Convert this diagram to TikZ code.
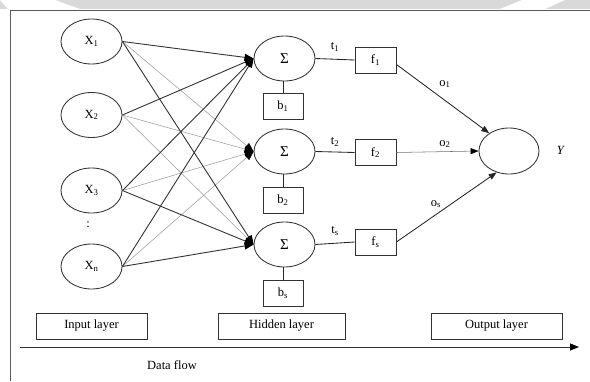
\documentclass[tikz,border=0pt]{standalone}
\usepackage{fontspec}
\setmainfont{Liberation Serif}
\usetikzlibrary{arrows.meta,shapes.geometric}
\definecolor{band}{RGB}{217,217,217}
\begin{document}
\begin{tikzpicture}[x=1pt,y=-1pt,
  every node/.style={font=\fontsize{12.5}{15}\selectfont},
  ell/.style={draw=black!80,line width=0.85pt,ellipse,minimum width=61pt,minimum height=45pt,inner sep=0pt},
  sig/.style={ell,font=\fontsize{15}{18}\selectfont},
  sbox/.style={draw=black!80,line width=0.85pt,rectangle,minimum width=40pt,minimum height=26pt,inner sep=0pt},
  lbox/.style={draw=black!80,line width=0.9pt,rectangle,minimum height=26pt,inner sep=0pt},
  dk/.style={draw=black!80,line width=0.9pt,-{Triangle[length=9pt,width=7pt,color=black]}},
  lt/.style={draw=black!38,line width=0.55pt,-{Triangle[length=9pt,width=7pt,color=black]}},
  conn/.style={draw=black!85,line width=0.85pt},
  oarr/.style={draw=black!85,line width=0.85pt,-{Triangle[length=8pt,width=6pt]}}
]
\useasboundingbox (0,0) rectangle (590,381);
% watermark band
\fill[band] (0,0) rectangle (590,9);
\fill[white] (0,0) -- (55,0) -- (80,9) -- (8,9) -- cycle;
\fill[white] (500,9) -- (545,9) -- (565,0) -- (522,0) -- cycle;
% frame
\draw[black!65,line width=1pt] (10,381) -- (10,10) -- (590,10);

% input nodes
\node[ell] (x1) at (91.5,41.5) {X\textsubscript{1}};
\node[ell] (x2) at (91.5,115) {X\textsubscript{2}};
\node[ell] (x3) at (91.5,190.5) {X\textsubscript{3}};
\node (dots) at (88,225) {:};
\node[ell] (xn) at (91.5,266.5) {X\textsubscript{n}};

% hidden nodes
\node[sig] (h1) at (284.5,58.5) {Σ};
\node[sig] (h2) at (284.5,151.5) {Σ};
\node[sig] (h3) at (284.5,244.5) {Σ};

\node[sbox] (b1) at (283,106) {b\textsubscript{1}};
\node[sbox] (b2) at (283,200.5) {b\textsubscript{2}};
\node[sbox] (bs) at (283,293.5) {b\textsubscript{s}};

\node[sbox,minimum width=41pt] (f1) at (375.5,60) {f\textsubscript{1}};
\node[sbox,minimum width=41pt] (f2) at (375.5,152.5) {f\textsubscript{2}};
\node[sbox,minimum width=41pt] (fs) at (375.5,242) {f\textsubscript{s}};

\node[ell,minimum width=60pt,minimum height=46pt] (out) at (509,151) {};
\node (ylab) at (561,150) {\textit{Y}};

% labels
\node (t1) at (335,47) {t\textsubscript{1}};
\node (t2) at (335,142) {t\textsubscript{2}};
\node (ts) at (335,231) {t\textsubscript{s}};
\node (o1) at (445,84) {o\textsubscript{1}};
\node (o2) at (445,144) {o\textsubscript{2}};
\node (os) at (436,204) {o\textsubscript{s}};

% input -> hidden, light first
\draw[lt] (x1.east) -- (h2.west);
\draw[lt] (x2.east) -- (h2.west);
\draw[lt] (x2.east) -- (h3.west);
\draw[lt] (x3.east) -- (h2.west);
\draw[lt] (xn.east) -- (h2.west);
\draw[dk] (x1.east) -- (h1.west);
\draw[dk] (x1.east) -- (h3.west);
\draw[dk] (x2.east) -- (h1.west);
\draw[dk] (x3.east) -- (h1.west);
\draw[dk] (x3.east) -- (h3.west);
\draw[dk] (xn.east) -- (h1.west);
\draw[dk] (xn.east) -- (h3.west);

% hidden to bias and f
\draw[conn] (b1.north) -- (b1.north |- h1.south);
\draw[conn] (b2.north) -- (b2.north |- h2.south);
\draw[conn] (bs.north) -- (bs.north |- h3.south);
\draw[conn] (h1.east) -- (f1.west);
\draw[conn] (h2.east) -- (f2.west);
\draw[conn] (h3.east) -- (fs.west);

% f -> output
\draw[oarr] (f1.-12) -- (out.138);
\draw[draw=black!55,line width=0.55pt,-{Triangle[length=8pt,width=6pt,color=black]}] (f2.east) -- (out.west);
\draw[oarr] (fs.east) -- (out.240);

% layer labels
\node[lbox,minimum width=111pt] (inl) at (91.5,326) {Input layer};
\node[lbox,minimum width=127pt] (hidl) at (281.5,326) {Hidden layer};
\node[lbox,minimum width=131pt] (outl) at (496.5,326) {Output layer};

% data flow
\coordinate (dfa) at (20,347);
\coordinate (dfb) at (579,347);
\draw[black!80,line width=1pt,-{Triangle[length=9pt,width=7pt,color=black]}] (dfa) -- (dfb);
\node (df) at (172,365) {Data flow};
\end{tikzpicture}
\end{document}
